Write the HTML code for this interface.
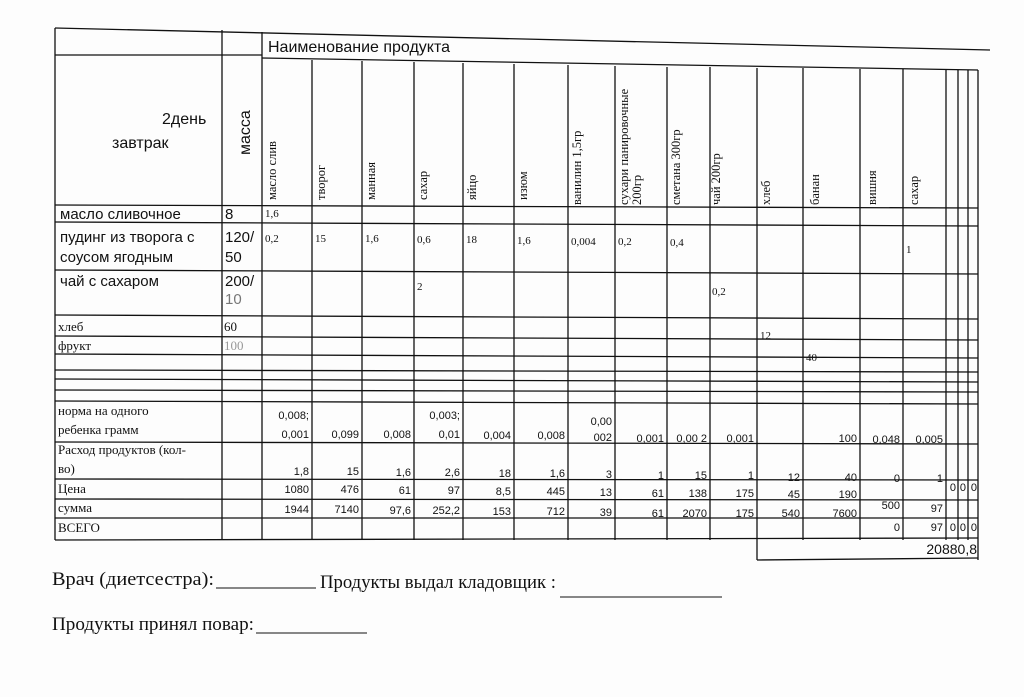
<!DOCTYPE html>
<html><head><meta charset="utf-8"><style>
html,body{margin:0;padding:0;background:#fff;}
svg{display:block;}
.s{font-family:"Liberation Sans",sans-serif;fill:#111;}
.r{font-family:"Liberation Serif",serif;fill:#111;}
.n{font-family:"Liberation Sans",sans-serif;font-size:11px;fill:#111;text-anchor:end;}
</style></head><body>
<svg width="1024" height="697" viewBox="0 0 1024 697" xmlns="http://www.w3.org/2000/svg">
<rect width="1024" height="697" fill="#fdfdfd"/>
<g stroke="#111" stroke-width="1.3" fill="none">
<line x1="55" y1="28" x2="990" y2="50"/>
<line x1="55" y1="28" x2="55" y2="540"/>
<line x1="222" y1="30" x2="222" y2="540"/>
<line x1="262" y1="32" x2="262" y2="540"/>
<line x1="222" y1="55" x2="262" y2="55"/>
<line x1="55" y1="55" x2="222" y2="55"/>
<line x1="262" y1="58" x2="978" y2="70"/>
<line x1="312" y1="60" x2="312" y2="540"/>
<line x1="362" y1="61" x2="362" y2="540"/>
<line x1="414" y1="62" x2="414" y2="540"/>
<line x1="463" y1="63" x2="463" y2="540"/>
<line x1="514" y1="64" x2="514" y2="540"/>
<line x1="568" y1="65" x2="568" y2="540"/>
<line x1="615" y1="66" x2="615" y2="540"/>
<line x1="667" y1="67" x2="667" y2="540"/>
<line x1="710" y1="67" x2="710" y2="540"/>
<line x1="757" y1="68" x2="757" y2="560"/>
<line x1="803" y1="68" x2="803" y2="540"/>
<line x1="860" y1="69" x2="860" y2="540"/>
<line x1="903" y1="69" x2="903" y2="540"/>
<line x1="946" y1="70" x2="946" y2="540"/>
<line x1="958" y1="70" x2="958" y2="540"/>
<line x1="968" y1="70" x2="968" y2="540"/>
<line x1="978" y1="70" x2="978" y2="560"/>
<line x1="55" y1="205" x2="978" y2="208"/>
<line x1="55" y1="222" x2="978" y2="226"/>
<line x1="55" y1="270" x2="978" y2="274"/>
<line x1="55" y1="315" x2="978" y2="319"/>
<line x1="55" y1="336" x2="978" y2="340"/>
<line x1="55" y1="354" x2="978" y2="358"/>
<line x1="55" y1="370" x2="978" y2="372"/>
<line x1="55" y1="379" x2="978" y2="382"/>
<line x1="55" y1="390" x2="978" y2="392"/>
<line x1="55" y1="401" x2="978" y2="404"/>
<line x1="55" y1="442" x2="978" y2="444"/>
<line x1="55" y1="479" x2="978" y2="480"/>
<line x1="55" y1="499" x2="978" y2="500"/>
<line x1="55" y1="518" x2="978" y2="518"/>
<line x1="55" y1="540" x2="978" y2="538"/>
<line x1="757" y1="560" x2="978" y2="558"/>
</g>
<text class="s" x="268" y="52" font-size="16">Наименование продукта</text>
<text class="s" x="162" y="124" font-size="16">2день</text>
<text class="s" x="112" y="148" font-size="16">завтрак</text>
<text class="s" font-size="16" transform="translate(250,155) rotate(-90)">масса</text>
<g class="r" font-size="12.5">
<text transform="translate(276,200) rotate(-90)">масло слив</text>
<text transform="translate(325,200) rotate(-90)">творог</text>
<text transform="translate(375,200) rotate(-90)">манная</text>
<text transform="translate(427,200) rotate(-90)">сахар</text>
<text transform="translate(476,200) rotate(-90)">яйцо</text>
<text transform="translate(527,200) rotate(-90)">изюм</text>
<text transform="translate(581,205) rotate(-90)">ванилин 1,5гр</text>
<text transform="translate(628,205) rotate(-90)">сухари панировочные</text>
<text transform="translate(641,205) rotate(-90)">200гр</text>
<text transform="translate(680,205) rotate(-90)">сметана 300гр</text>
<text transform="translate(720,205) rotate(-90)">чай 200гр</text>
<text transform="translate(770,205) rotate(-90)">хлеб</text>
<text transform="translate(819,205) rotate(-90)">банан</text>
<text transform="translate(876,205) rotate(-90)">вишня</text>
<text transform="translate(918,205) rotate(-90)">сахар</text>
</g>
<g class="s" font-size="15">
<text x="60" y="219">масло сливочное</text>
<text x="60" y="242">пудинг из творога с</text>
<text x="60" y="262">соусом ягодным</text>
<text x="60" y="286">чай с сахаром</text>
<text x="225" y="219">8</text>
<text x="225" y="242">120/</text>
<text x="225" y="262">50</text>
<text x="225" y="286">200/</text>
<text x="225" y="304" fill="#777">10</text>
</g>
<g class="r" font-size="13">
<text x="58" y="331">хлеб</text>
<text x="58" y="350">фрукт</text>
<text x="224" y="331">60</text>
<text x="224" y="350" fill="#999">100</text>
</g>
<g class="r" font-size="11">
<text x="265" y="217">1,6</text>
<text x="265" y="242">0,2</text><text x="315" y="242">15</text><text x="365" y="242">1,6</text>
<text x="417" y="243">0,6</text><text x="466" y="243">18</text><text x="517" y="244">1,6</text>
<text x="571" y="245">0,004</text><text x="618" y="245">0,2</text><text x="670" y="246">0,4</text>
<text x="906" y="253">1</text>
<text x="417" y="290">2</text><text x="712" y="295">0,2</text>
<text x="760" y="339">12</text><text x="806" y="361">40</text>
</g>
<g class="r" font-size="13">
<text x="58" y="415">норма на одного</text>
<text x="58" y="434">ребенка грамм</text>
<text x="58" y="454">Расход продуктов (кол-</text>
<text x="58" y="473">во)</text>
<text x="58" y="493">Цена</text>
<text x="58" y="512">сумма</text>
<text x="58" y="532">ВСЕГО</text>
</g>
<g class="n">
<text x="309" y="419">0,008;</text><text x="309" y="438">0,001</text>
<text x="359" y="438">0,099</text><text x="411" y="438">0,008</text>
<text x="460" y="419">0,003;</text><text x="460" y="438">0,01</text>
<text x="511" y="439">0,004</text><text x="565" y="439">0,008</text>
<text x="612" y="425">0,00</text><text x="612" y="441">002</text>
<text x="664" y="442">0,001</text><text x="707" y="442">0,00 2</text>
<text x="754" y="442">0,001</text><text x="857" y="442">100</text>
<text x="900" y="443">0,048</text><text x="943" y="443">0,005</text>
<text x="309" y="475">1,8</text><text x="359" y="475">15</text><text x="411" y="476">1,6</text>
<text x="460" y="476">2,6</text><text x="511" y="477">18</text><text x="565" y="477">1,6</text>
<text x="612" y="478">3</text><text x="664" y="479">1</text><text x="707" y="479">15</text>
<text x="754" y="479">1</text><text x="800" y="481">12</text><text x="857" y="481">40</text>
<text x="900" y="482">0</text><text x="943" y="482">1</text>
<text x="956" y="491">0</text><text x="966" y="491">0</text><text x="977" y="491">0</text>
<text x="309" y="493">1080</text><text x="359" y="493">476</text><text x="411" y="494">61</text>
<text x="460" y="494">97</text><text x="511" y="495">8,5</text><text x="565" y="495">445</text>
<text x="612" y="496">13</text><text x="664" y="497">61</text><text x="707" y="497">138</text>
<text x="754" y="497">175</text><text x="800" y="498">45</text><text x="857" y="498">190</text>
<text x="900" y="509">500</text><text x="943" y="512">97</text>
<text x="309" y="513">1944</text><text x="359" y="513">7140</text><text x="411" y="514">97,6</text>
<text x="460" y="514">252,2</text><text x="511" y="515">153</text><text x="565" y="515">712</text>
<text x="612" y="516">39</text><text x="664" y="517">61</text><text x="707" y="517">2070</text>
<text x="754" y="517">175</text><text x="800" y="517">540</text><text x="857" y="517">7600</text>
<text x="900" y="531">0</text><text x="943" y="531">97</text>
<text x="956" y="531">0</text><text x="966" y="531">0</text><text x="977" y="531">0</text>
</g>
<text class="s" x="977" y="554" font-size="14" text-anchor="end">20880,8</text>
<g class="r" font-size="19">
<text x="52" y="585" textLength="162" lengthAdjust="spacingAndGlyphs">Врач (диетсестра):</text>
<text x="320" y="588" textLength="236" lengthAdjust="spacingAndGlyphs">Продукты выдал кладовщик :</text>
<text x="52" y="630" textLength="202" lengthAdjust="spacingAndGlyphs">Продукты принял повар:</text>
</g>
<g stroke="#111" stroke-width="1">
<line x1="216" y1="588" x2="316" y2="588"/>
<line x1="560" y1="597" x2="722" y2="597"/>
<line x1="256" y1="633" x2="367" y2="633"/>
</g>
</svg>
</body></html>
